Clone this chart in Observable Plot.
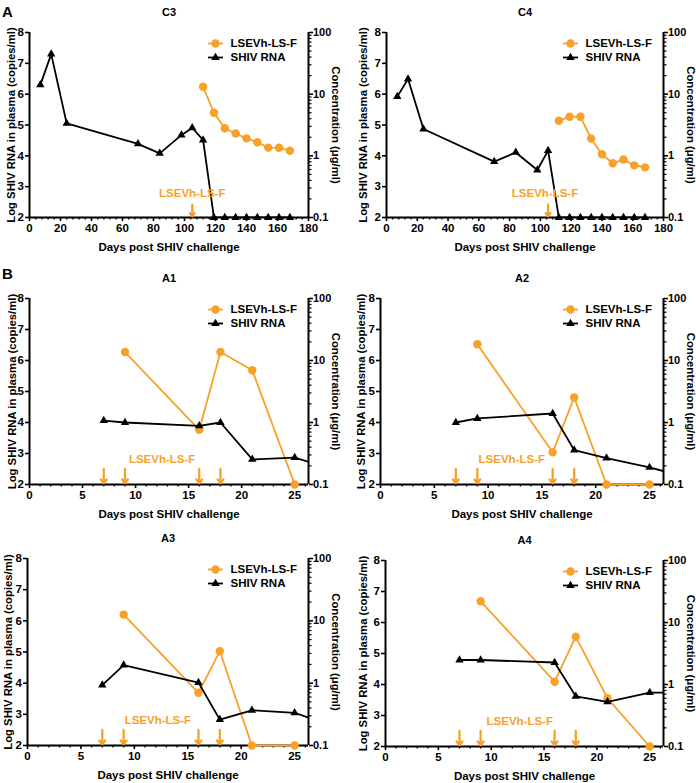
<!DOCTYPE html>
<html><head><meta charset="utf-8">
<script src="https://cdn.jsdelivr.net/npm/d3@7"></script>
<script src="https://cdn.jsdelivr.net/npm/@observablehq/plot@0.6"></script>
<style>
body{margin:0;background:#fff;}
#wrap{position:relative;width:696px;height:783px;overflow:hidden;font-family:"Liberation Sans",Arial,sans-serif;}
.panel{position:absolute;}
.lbl{position:absolute;font-weight:bold;font-size:15px;line-height:1;left:2px;z-index:5;}
</style></head><body><div id="wrap"><div class="lbl" style="top:4px">A</div><div class="lbl" style="top:266px">B</div></div>
<script>
const ORANGE = "#F7A128";
const drugName = "LSEVh-LS-F";
const rnaName = "SHIV RNA";
const xTitle = "Days post SHIV challenge";
const yTitle = "Log SHIV RNA in plasma (copies/ml)";
const y2Title = "Concentration (μg/ml)";

// Panel A: C3, C4
const c3RnaDays = [7,14,24,70,84,98,105,112,119,126,133,140,147,154,161,168];
const c3Rna = [6.30,7.30,5.05,4.39,4.08,4.67,4.91,4.51,2,2,2,2,2,2,2,2];
const c3ConcDays = [112,119,126,133,140,147,154,161,168];
const c3Conc = [13.2,5.0,2.8,2.3,1.92,1.66,1.36,1.35,1.21];
const c4RnaDays = [7,14,24,70,84,98,105,112,119,126,133,140,147,154,161,168];
const c4Rna = [5.92,6.49,4.87,3.81,4.11,3.54,4.17,2,2,2,2,2,2,2,2,2];
const c4ConcDays = [112,119,126,133,140,147,154,161,168];
const c4Conc = [3.7,4.3,4.3,1.9,1.06,0.76,0.87,0.70,0.65];
const cDoseDays = [105];

// Panel B: A1..A4
const aRnaDays = [7,9,16,18,21,25,28];
const aConcDays = [9,16,18,21,25];
const a1Rna = [4.06,4.00,3.89,4.00,2.81,2.87,2.55];
const a1Conc = [13.7,0.76,13.7,6.95,0.1];
const a2Rna = [4.00,4.13,4.29,3.11,2.85,2.55,2.28];
const a2Conc = [18.3,0.33,2.53,0.1,0.1];
const a3Rna = [3.94,4.58,4.02,2.83,3.13,3.05,2.69];
const a3Conc = [12.6,0.70,3.26,0.1,0.1];
const a4Rna = [4.79,4.79,4.71,3.62,3.44,3.74,3.74];
const a4Conc = [22,1.11,5.9,0.60,0.1];
const aDoseDays = [7,9,16,18];

// axes
const cXDomain = [0,180];
const cXTicks = [0,20,40,60,80,100,120,140,160,180];
const aXDomain = [0,26.3];
const aXTicks = [0,5,10,15,20,25];
const rnaDomain = [2,8];
const rnaTicks = [2,3,4,5,6,7,8];
const concTicks = [0.1,1,10,100];

const concToY = c => 4 + 2 * Math.log10(c);
const concMinor = [];
for (const d of [0.1,1,10]) for (let k = 2; k <= 9; k++) concMinor.push(+(k*d).toPrecision(3));

const hline = {draw(ctx){ ctx.moveTo(-7.5,0); ctx.lineTo(7.5,0); }};

function panel(o){
  const w = 348, mt = 32;
  const mb = o.h - mt - o.plotH;
  const xMinor = [];
  for (let v = o.xDomain[0]; v <= o.xDomain[1] + 1e-9; v += o.minorStep) {
    if (!o.xTicks.includes(+v.toFixed(6))) xMinor.push(+v.toFixed(6));
  }
  const rna = o.rnaDays.map((d,i) => ({day:d, v:o.rna[i]}));
  const conc = o.concDays.map((d,i) => ({day:d, c:o.conc[i]}));
  const rnaVisible = rna.filter(d => d.day <= o.xDomain[1]);
  const txt = {fontSize: 11.5, fontWeight: "bold", fill: "black"};
  const plot = Plot.plot({
    width: w, height: o.h,
    marginLeft: o.ml, marginRight: o.mr, marginTop: mt, marginBottom: mb,
    x: {domain: o.xDomain},
    y: {domain: rnaDomain},
    style: {background: "transparent", fontFamily: "'Liberation Sans', Arial, sans-serif", fontSize: "11px", fontWeight: "bold", color: "black", overflow: "visible"},
    marks: [
      Plot.axisX({ticks: o.xTicks, tickSize: 4, tickPadding: 2, strokeWidth: 1.6, label: null, tickFormat: d => String(d), fontSize: 11.5}),
      Plot.axisX({ticks: xMinor, tickSize: 2.5, strokeWidth: 1.3, fill: "none", label: null}),
      Plot.axisY({ticks: rnaTicks, anchor: "left", tickSize: 4, tickPadding: 1.5, strokeWidth: 1.6, label: null, tickFormat: d => String(d), fontSize: 11.5}),
      Plot.axisY({ticks: concTicks.map(concToY), anchor: "right", tickSize: 4, tickPadding: 0.5, strokeWidth: 1.6, label: null,
        tickFormat: v => String(+(10 ** ((v - 4) / 2)).toPrecision(3)), fontSize: 11}),
      Plot.axisY({ticks: concMinor.map(concToY), anchor: "right", tickSize: 2.5, strokeWidth: 1.2, fill: "none", label: null}),
      Plot.ruleY([rnaDomain[0]], {stroke: "black", strokeWidth: 2}),
      Plot.ruleX([o.xDomain[0]], {stroke: "black", strokeWidth: 2}),
      Plot.ruleX([o.xDomain[1]], {stroke: "black", strokeWidth: 2}),
      Plot.line(conc, {x: "day", y: d => concToY(d.c), stroke: ORANGE, strokeWidth: 1.8}),
      Plot.dot(conc, {x: "day", y: d => concToY(d.c), r: 4.2, fill: ORANGE}),
      Plot.line(rna, {x: "day", y: "v", stroke: "black", strokeWidth: 1.8, clip: true}),
      Plot.dot(rnaVisible, {x: "day", y: "v", symbol: "triangle", r: 3.1, fill: "black"}),
      Plot.arrow(o.doseDays, {x1: d => d, x2: d => d, y1: o.arrowTop, y2: 2.04, stroke: ORANGE, strokeWidth: 2.3, headLength: 8, headAngle: 75}),
      Plot.text([drugName], {x: o.labelX, y: 2.8, ...txt, fill: ORANGE}),
      Plot.text([o.name], {frameAnchor: "top", dy: -20, lineAnchor: "middle", ...txt, fontSize: 11}),
      Plot.text([xTitle], {frameAnchor: "bottom", dy: 30, lineAnchor: "middle", textAnchor: "middle", ...txt}),
      Plot.text([yTitle], {frameAnchor: "left", rotate: -90, dx: o.ytDx, textAnchor: "middle", lineAnchor: "middle", ...txt, fontSize: 11.3}),
      Plot.text([y2Title], {frameAnchor: "right", rotate: 90, dx: 27, textAnchor: "middle", lineAnchor: "middle", ...txt, fontSize: 11.3}),
      // legend
      Plot.dot([0], {frameAnchor: "top-right", dx: -93, dy: 11, symbol: hline, stroke: ORANGE, strokeWidth: 1.8, fill: "none"}),
      Plot.dot([0], {frameAnchor: "top-right", dx: -93, dy: 11, r: 4.2, fill: ORANGE}),
      Plot.text([drugName], {frameAnchor: "top-right", dx: -78, dy: 11, textAnchor: "start", lineAnchor: "middle", ...txt}),
      Plot.dot([0], {frameAnchor: "top-right", dx: -93, dy: 25, symbol: hline, stroke: "black", strokeWidth: 1.8, fill: "none"}),
      Plot.dot([0], {frameAnchor: "top-right", dx: -93, dy: 25, symbol: "triangle", r: 3.1, fill: "black"}),
      Plot.text([rnaName], {frameAnchor: "top-right", dx: -78, dy: 25, textAnchor: "start", lineAnchor: "middle", ...txt})
    ]
  });
  plot.classList.add("panel");
  plot.style.left = o.sx + "px";
  plot.style.top = o.sy + "px";
  plot.style.position = "absolute";
  document.getElementById("wrap").appendChild(plot);
}

const cCommon = {xDomain: cXDomain, xTicks: cXTicks, minorStep: 4, doseDays: cDoseDays, arrowTop: 2.42, plotH: 185, h: 262, sy: 0};
panel({...cCommon, name: "C3", sx: 0, ml: 29, mr: 40, ytDx: -18, rnaDays: c3RnaDays, rna: c3Rna, concDays: c3ConcDays, conc: c3Conc, labelX: 105});
panel({...cCommon, name: "C4", sx: 348, ml: 38, mr: 33, ytDx: -23, rnaDays: c4RnaDays, rna: c4Rna, concDays: c4ConcDays, conc: c4Conc, labelX: 103});

const aCommon = {xDomain: aXDomain, xTicks: aXTicks, minorStep: 1, doseDays: aDoseDays, arrowTop: 2.5, rnaDays: aRnaDays, concDays: aConcDays};
panel({...aCommon, name: "A1", sx: 0, sy: 266, ml: 29, mr: 40, plotH: 186, h: 261, ytDx: -17, rna: a1Rna, conc: a1Conc, labelX: 12.5});
panel({...aCommon, name: "A2", sx: 348, sy: 266, ml: 32, mr: 33, plotH: 186, h: 261, ytDx: -19, rna: a2Rna, conc: a2Conc, labelX: 12.2});
panel({...aCommon, name: "A3", sx: 0, sy: 526, ml: 27, mr: 40, plotH: 187, h: 257, ytDx: -19, rna: a3Rna, conc: a3Conc, labelX: 12.2});
panel({...aCommon, name: "A4", sx: 348, sy: 528, ml: 37, mr: 33, plotH: 186, h: 255, ytDx: -22, rna: a4Rna, conc: a4Conc, labelX: 12.7});
</script></body></html>
